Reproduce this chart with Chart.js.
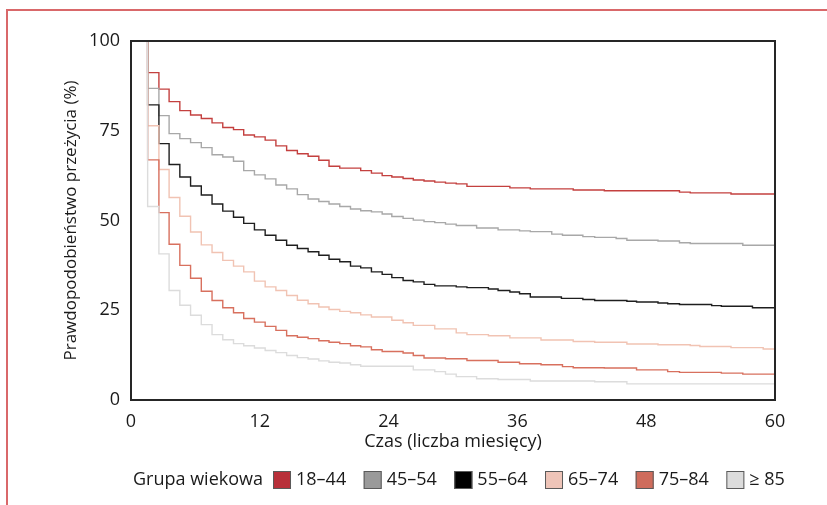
<!DOCTYPE html>
<html><head><meta charset="utf-8">
<script src="https://cdn.jsdelivr.net/npm/chart.js@4/dist/chart.umd.min.js"></script>
<style>
html,body{margin:0;padding:0;background:#fff;}
#wrap{position:relative;width:827px;height:505px;overflow:hidden;}
#frame{position:absolute;left:6px;top:9px;width:900px;height:600px;border-top:2px solid #d9686a;border-left:2px solid #d9686a;}
canvas{position:absolute;left:0;top:0;}
</style></head><body>
<div id="wrap"><div id="frame"></div><canvas id="c" width="827" height="505"></canvas></div>
<script>
// ---- data ----
const groups = ['18–44', '45–54', '55–64', '65–74', '75–84', '≥ 85'];
const xTicks = [0, 12, 24, 36, 48, 60];
const yTicks = [0, 25, 50, 75, 100];

const months_18_44 = [1.55,1.55,2.6,3.55,4.55,5.55,6.55,7.55,8.55,9.55,10.5,11.5,12.5,13.5,14.5,15.5,16.5,17.5,18.45,19.45,21.4,22.4,23.4,24.3,25.35,26.3,27.3,28.3,29.3,30.3,31.3,35.3,37.2,41.2,44.1,51.1,52.1,55.9,60];
const surv_18_44   = [100,91.2,86.6,83.1,80.6,79.4,78.4,77.2,75.9,75.3,73.8,73.3,72.4,70.8,69.5,68.6,67.9,66.8,65.1,64.6,63.9,63.2,62.5,62.1,61.7,61.3,61.0,60.7,60.4,60.2,59.5,59.1,58.8,58.5,58.3,57.9,57.7,57.4,57.4];

const months_45_54 = [1.55,1.55,2.6,3.55,4.55,5.55,6.55,7.55,8.55,9.55,10.5,11.5,12.5,13.5,14.5,15.5,16.5,17.5,18.45,19.45,20.45,21.4,22.4,23.4,24.3,25.35,26.3,27.3,28.3,29.3,30.3,32.2,34.2,36.2,37.2,39.2,40.2,42.1,43.2,45.2,46.2,49.1,51.1,52.1,57.0,60];
const surv_45_54   = [100,86.8,79.2,74.2,72.8,71.7,70.3,68.3,67.7,66.5,63.9,62.7,61.6,59.9,58.8,57.2,56.0,55.3,54.6,53.9,53.2,52.7,52.4,51.8,51.1,50.6,50.1,49.7,49.4,49.0,48.6,47.9,47.4,47.1,46.9,46.2,45.9,45.5,45.3,45.0,44.5,44.3,43.8,43.6,43.1,43.1];

const months_55_64 = [1.55,1.55,2.6,3.55,4.55,5.55,6.55,7.55,8.55,9.55,10.5,11.5,12.5,13.5,14.5,15.5,16.5,17.5,18.45,19.45,20.45,21.4,22.4,23.4,24.3,25.35,26.3,27.3,28.3,30.3,31.3,33.3,34.2,35.3,36.2,37.2,40.1,42.1,43.2,46.2,47.1,49.1,50.0,51.1,54.1,55.0,57.9,60];
const surv_55_64   = [100,82.2,71.4,65.6,62.1,59.6,57.1,54.6,52.6,50.9,49.2,47.4,45.9,44.5,43.1,42.2,41.3,40.3,39.2,38.5,37.3,36.8,35.7,35.0,34.1,33.3,32.9,32.2,31.8,31.5,31.3,30.9,30.5,30.1,29.6,28.7,28.3,28.0,27.7,27.5,27.3,27.0,26.8,26.6,26.3,26.1,25.7,25.7];

const months_65_74 = [1.55,1.55,2.6,3.55,4.55,5.55,6.55,7.55,8.55,9.55,10.5,11.5,12.5,13.5,14.5,15.5,16.5,17.5,18.45,19.45,20.45,21.4,22.4,24.3,25.35,26.3,28.3,30.3,31.3,33.3,35.3,38.2,41.2,43.2,46.2,49.1,52.1,53.0,55.9,58.9,60];
const surv_65_74   = [100,76.4,64.2,56.4,51.2,46.8,43.2,41.1,38.9,37.3,35.7,33.1,31.5,30.5,29.1,27.8,26.8,25.9,25.2,24.7,24.3,23.7,23.1,22.2,21.5,20.8,19.8,18.7,18.2,17.9,17.3,16.7,16.3,16.1,15.6,15.4,15.2,14.9,14.6,14.2,14.2];

const months_75_84 = [1.55,1.55,2.6,3.55,4.55,5.55,6.55,7.55,8.55,9.55,10.5,11.5,12.5,13.5,14.5,15.5,16.5,17.5,18.45,19.45,20.45,21.4,22.4,23.4,25.35,26.3,27.3,29.3,31.3,34.2,36.2,38.2,40.2,41.2,44.1,47.1,50.0,51.1,55.0,57.0,60];
const surv_75_84   = [100,66.9,52.2,43.4,37.5,33.9,30.3,27.7,25.7,24.3,22.7,21.7,20.5,19.4,17.9,17.5,17.1,16.5,16.1,15.7,15.1,14.8,14.0,13.5,13.1,12.4,11.7,11.5,11.0,10.5,10.1,9.8,9.3,9.0,8.9,8.4,7.9,7.7,7.5,7.2,7.2];

const months_85 = [1.55,1.55,2.6,3.55,4.55,5.55,6.55,7.55,8.55,9.55,10.5,11.5,12.5,13.5,14.5,15.5,16.5,17.5,18.45,19.45,20.45,21.4,26.3,28.3,29.3,30.3,32.2,34.2,37.2,43.2,46.2,60];
const surv_85   = [100,53.9,40.7,30.5,26.4,23.6,21.0,18.2,16.8,15.7,15.1,14.5,13.8,13.2,12.4,11.8,11.4,10.9,10.5,10.3,9.8,9.4,8.4,7.9,7.2,6.5,5.9,5.7,5.3,5.1,4.5,4.5];

// ---- styles ----
const lineColors = ['#c4403f', '#a8a8a8', '#1e1e1e', '#f1c3b3', '#d8705e', '#dcdcdc'];
const boxColors  = ['#b8303a', '#9a9a9a', '#000000', '#eec4b8', '#cf6c5c', '#dcdcdc'];
const FONT = '"Open Sans", "Noto Sans", sans-serif';

const monthsList = [months_18_44, months_45_54, months_55_64, months_65_74, months_75_84, months_85];
const survList = [surv_18_44, surv_45_54, surv_55_64, surv_65_74, surv_75_84, surv_85];

const datasets = groups.map((g, i) => ({
  label: g,
  data: monthsList[i].map((m, k) => ({x: m, y: survList[i][k]})),
  borderColor: lineColors[i],
  backgroundColor: lineColors[i],
  borderWidth: 1.4,
  pointRadius: 0,
  stepped: true,
  fill: false,
  order: groups.length - i
}));

const framePlugin = {
  id: 'frame',
  afterDatasetsDraw(chart) {
    const {ctx, chartArea: a} = chart;
    ctx.save();
    ctx.strokeStyle = '#262626';
    ctx.lineWidth = 2;
    ctx.strokeRect(a.left, a.top, a.right - a.left, a.bottom - a.top);
    ctx.restore();
  }
};

const legendPlugin = {
  id: 'customLegend',
  afterDraw(chart) {
    const ctx = chart.ctx;
    ctx.save();
    ctx.font = '18px ' + FONT;
    ctx.textBaseline = 'middle';
    ctx.textAlign = 'left';
    ctx.fillStyle = '#1a1a1a';
    const y = chart.height - 25;
    let x = chart.chartArea.left + 2;
    const title = 'Grupa wiekowa';
    ctx.fillText(title, x, y);
    x += ctx.measureText(title).width + 10;
    groups.forEach((g, i) => {
      ctx.fillStyle = boxColors[i];
      ctx.fillRect(x, y - 9, 18, 18);
      ctx.strokeStyle = '#5a5a5a';
      ctx.lineWidth = 1;
      ctx.strokeRect(x + 0.5, y - 8.5, 17, 17);
      x += 18 + 5;
      ctx.fillStyle = '#1a1a1a';
      ctx.fillText(g, x, y);
      x += ctx.measureText(g).width + 17.5;
    });
    ctx.restore();
  }
};

new Chart(document.getElementById('c'), {
  type: 'line',
  data: {datasets},
  options: {
    responsive: false,
    devicePixelRatio: 1,
    animation: false,
    layout: {padding: {left: 52, top: 41, right: 52, bottom: 52}},
    plugins: {legend: {display: false}, tooltip: {enabled: false}},
    scales: {
      x: {
        type: 'linear', min: 0, max: 60,
        afterBuildTicks: s => { s.ticks = xTicks.map(v => ({value: v})); },
        afterFit: s => { s.height = 53; },
        grid: {display: false, drawTicks: false},
        border: {display: false},
        ticks: {padding: 11, color: '#1a1a1a', font: {family: FONT, size: 18}},
        title: {display: true, text: 'Czas (liczba miesięcy)', color: '#1a1a1a', padding: {top: 0, bottom: 0}, font: {family: FONT, size: 18}}
      },
      y: {
        type: 'linear', min: 0, max: 100,
        afterBuildTicks: s => { s.ticks = yTicks.map(v => ({value: v})); },
        afterFit: s => { s.width = 79; },
        grid: {display: false, drawTicks: false},
        border: {display: false},
        ticks: {padding: 11, color: '#1a1a1a', font: {family: FONT, size: 18}},
        title: {display: true, text: 'Prawdopodobieństwo przeżycia (%)', color: '#1a1a1a', padding: {top: 9, bottom: 0}, font: {family: FONT, size: 17}}
      }
    }
  },
  plugins: [framePlugin, legendPlugin]
});
</script>
</body></html>
